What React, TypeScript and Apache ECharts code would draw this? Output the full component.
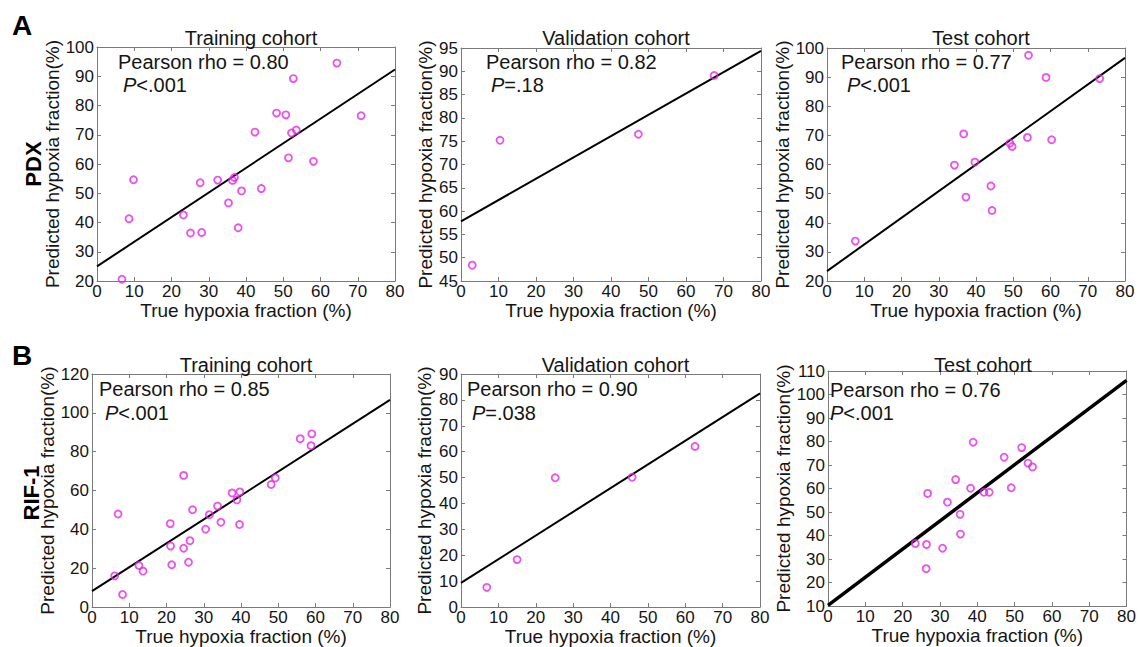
import React, { useEffect, useRef } from "react";
import * as echarts from "echarts";

const FONT = '"Liberation Sans", Arial, Helvetica, sans-serif';

// ---- Data ----
const cohortTitles = ["Training cohort", "Validation cohort", "Test cohort"];
const rowLabels = ["PDX", "RIF-1"];
const panelLetters = ["A", "B"];
const xAxisTitle = "True hypoxia fraction (%)";
const yAxisTitle = "Predicted hypoxia fraction(%)";

// PDX
const pdxTrainTrue = [64.4, 52.7, 48.2, 50.7, 70.9, 42.4, 52.2, 53.5, 51.4, 58.1, 9.8, 27.7, 32.4, 36.4, 36.9, 38.8, 44.1, 35.3, 8.6, 23.2, 25.1, 28.1, 37.9, 6.7];
const pdxTrainPred = [94.5, 89.2, 77.4, 76.8, 76.5, 70.9, 70.6, 71.6, 62.1, 60.9, 54.6, 53.6, 54.5, 54.4, 55.4, 50.8, 51.6, 46.7, 41.3, 42.6, 36.4, 36.6, 38.2, 20.6];
const pdxValTrue = [3.0, 10.4, 47.3, 67.5];
const pdxValPred = [48.4, 75.2, 76.5, 89.1];
const pdxTestTrue = [7.6, 34.2, 36.7, 39.7, 37.3, 44.0, 44.3, 49.1, 49.7, 53.8, 54.1, 58.8, 60.3, 73.2];
const pdxTestPred = [33.7, 59.8, 70.5, 60.8, 48.8, 52.6, 44.2, 67.3, 66.2, 69.3, 97.5, 89.9, 68.5, 89.5];

// RIF-1
const rifTrainTrue = [59.0, 55.9, 58.8, 24.6, 49.2, 48.1, 37.6, 39.7, 38.9, 33.7, 7.0, 27.0, 31.5, 34.6, 39.6, 21.0, 30.5, 26.3, 21.1, 24.6, 12.6, 13.7, 21.4, 25.9, 6.1, 8.2];
const rifTrainPred = [89.2, 86.7, 83.1, 67.8, 66.5, 63.1, 58.8, 59.3, 55.2, 52.0, 47.9, 50.1, 47.6, 43.7, 42.5, 43.0, 40.1, 34.2, 31.4, 30.3, 21.4, 18.5, 21.8, 23.1, 16.1, 6.5];
const rifValTrue = [6.9, 15.0, 25.2, 45.8, 62.6];
const rifValPred = [7.6, 18.3, 49.9, 50.1, 62.0];
const rifTestTrue = [38.9, 51.9, 47.2, 53.6, 54.8, 34.2, 38.2, 41.8, 43.2, 49.1, 26.7, 32.0, 35.4, 35.5, 23.4, 26.4, 30.7, 26.3];
const rifTestPred = [79.7, 77.4, 73.3, 70.8, 69.2, 63.8, 60.1, 58.4, 58.4, 60.3, 57.9, 54.2, 49.0, 40.6, 36.6, 36.2, 34.6, 25.9];

// Regression line values at x = 0 and x = 80
const fitX = [0, 80];
const pdxTrainFit = [25.0, 92.3];
const pdxValFit = [57.8, 94.4];
const pdxTestFit = [23.4, 96.6];
const rifTrainFit = [8.2, 106.7];
const rifValFit = [9.3, 82.5];
const rifTestFit = [10.3, 106.0];

// Axis ranges [min, max, step]
const xRange = [0, 80, 10];
const pdxTrainY = [20, 100, 10];
const pdxValY = [45, 95, 5];
const pdxTestY = [20, 100, 10];
const rifTrainY = [0, 120, 20];
const rifValY = [0, 90, 10];
const rifTestY = [10, 110, 10];

// Statistics text
const rhoTexts = ["0.80", "0.82", "0.77", "0.85", "0.90", "0.76"];
const pTexts = ["<.001", "=.18", "<.001", "<.001", "=.038", "<.001"];

// ---- Layout ----
const panels = [
  { xs: pdxTrainTrue, ys: pdxTrainPred, fit: pdxTrainFit, yr: pdxTrainY, box: [97, 47, 298, 234], nameGap: 30, lw: 2, ann: [21, 15, 26, 38], title: 0, titleTop: 23 },
  { xs: pdxValTrue, ys: pdxValPred, fit: pdxValFit, yr: pdxValY, box: [461, 48, 300, 233], nameGap: 24, lw: 2, ann: [25, 14, 30, 37], title: 1, titleTop: 23 },
  { xs: pdxTestTrue, ys: pdxTestPred, fit: pdxTestFit, yr: pdxTestY, box: [827, 48, 298, 233], nameGap: 27, lw: 2, ann: [14, 14, 20, 37], title: 2, titleTop: 23 },
  { xs: rifTrainTrue, ys: rifTrainPred, fit: rifTrainFit, yr: rifTrainY, box: [92, 374, 298, 234], nameGap: 27, lw: 2, ann: [7, 15, 13, 39], title: 0, titleTop: 350 },
  { xs: rifValTrue, ys: rifValPred, fit: rifValFit, yr: rifValY, box: [461, 374, 299, 233], nameGap: 27, lw: 2, ann: [6, 15, 11, 39], title: 1, titleTop: 350 },
  { xs: rifTestTrue, ys: rifTestPred, fit: rifTestFit, yr: rifTestY, box: [828, 371, 300, 235], nameGap: 33, lw: 3.5, ann: [2, 19, 2, 42], title: 2, titleTop: 350 },
];

const AXIS_COLOR = "#7a7a7a";
const TEXT_COLOR = "#151515";
const MARKER = "#e626e6";

function buildOption() {
  const grid: any[] = [];
  const xAxis: any[] = [];
  const yAxis: any[] = [];
  const series: any[] = [];
  const title: any[] = [];
  const graphic: any[] = [];

  panels.forEach((p, i) => {
    const [left, top, width, height] = p.box;
    grid.push({ left, top, width, height, containLabel: false });
    const axisLine = { show: true, onZero: false, lineStyle: { color: AXIS_COLOR, width: 1 } };
    const tick = { show: true, inside: true, length: 4, lineStyle: { color: AXIS_COLOR } };
    const labelStyle = { fontSize: 17, color: TEXT_COLOR, fontFamily: FONT };
    xAxis.push({
      type: "value", gridIndex: i, position: "bottom",
      min: xRange[0], max: xRange[1], interval: xRange[2],
      axisLine, axisTick: tick, splitLine: { show: false },
      axisLabel: { ...labelStyle, margin: 2, showMinLabel: true, showMaxLabel: true },
      name: xAxisTitle, nameLocation: "middle", nameGap: 19,
      nameTextStyle: { fontSize: 19, color: TEXT_COLOR, fontFamily: FONT },
    });
    xAxis.push({
      type: "value", gridIndex: i, position: "top",
      min: xRange[0], max: xRange[1], interval: xRange[2],
      axisLine, axisTick: tick, splitLine: { show: false }, axisLabel: { show: false },
    });
    yAxis.push({
      type: "value", gridIndex: i, position: "left",
      min: p.yr[0], max: p.yr[1], interval: p.yr[2],
      axisLine, axisTick: tick, splitLine: { show: false },
      axisLabel: { ...labelStyle, margin: 3, showMinLabel: true, showMaxLabel: true },
      name: yAxisTitle, nameLocation: "middle", nameGap: p.nameGap, nameRotate: 90,
      nameTextStyle: { fontSize: 19, color: TEXT_COLOR, fontFamily: FONT },
    });
    yAxis.push({
      type: "value", gridIndex: i, position: "right",
      min: p.yr[0], max: p.yr[1], interval: p.yr[2],
      axisLine, axisTick: tick, splitLine: { show: false }, axisLabel: { show: false },
    });
    series.push({
      type: "line", xAxisIndex: 2 * i, yAxisIndex: 2 * i,
      data: fitX.map((x, k) => [x, p.fit[k]]),
      symbol: "none", silent: true, z: 2,
      lineStyle: { color: "#000", width: p.lw },
    });
    series.push({
      type: "scatter", xAxisIndex: 2 * i, yAxisIndex: 2 * i,
      data: p.xs.map((x, k) => [x, p.ys[k]]),
      symbol: "circle", symbolSize: 7, z: 3,
      itemStyle: { color: "rgba(255,255,255,0)", borderColor: MARKER, borderWidth: 1.8 },
    });
    title.push({
      text: cohortTitles[p.title],
      left: left + width / 2, top: p.titleTop, textAlign: "center",
      textStyle: { fontSize: 20, fontWeight: "normal", color: TEXT_COLOR, fontFamily: FONT },
    });
    graphic.push({
      type: "text", x: left + p.ann[0], y: top + p.ann[1], z: 10,
      style: { text: "Pearson rho = " + rhoTexts[i], fontSize: 20, fontFamily: FONT, fill: TEXT_COLOR, verticalAlign: "middle", align: "left" },
    });
    graphic.push({
      type: "text", x: left + p.ann[2], y: top + p.ann[3], z: 10,
      style: {
        text: "{i|P}" + pTexts[i], fontSize: 20, fontFamily: FONT, fill: TEXT_COLOR, verticalAlign: "middle", align: "left",
        rich: { i: { fontStyle: "italic", fontSize: 20, fontFamily: FONT, fill: TEXT_COLOR } },
      },
    });
  });

  // Panel letters and row labels
  const rowCenters = [164, 493];
  const rowX = [33, 31];
  panelLetters.forEach((l, r) => {
    graphic.push({
      type: "text", x: 12, y: r === 0 ? 25 : 355,
      style: { text: l, fontSize: 28, fontWeight: "bold", fontFamily: FONT, fill: "#000", verticalAlign: "middle", align: "left" },
    });
    graphic.push({
      type: "text", x: rowX[r], y: rowCenters[r], rotation: Math.PI / 2,
      style: { text: rowLabels[r], fontSize: 22, fontWeight: "bold", fontFamily: FONT, fill: "#000", verticalAlign: "middle", align: "center" },
    });
  });

  return {
    animation: false,
    backgroundColor: "#ffffff",
    grid, xAxis, yAxis, series, title, graphic,
  };
}

export default function App() {
  const ref = useRef<HTMLDivElement>(null);
  useEffect(() => {
    if (!ref.current) return;
    const chart = echarts.init(ref.current, undefined, { renderer: "svg" });
    chart.setOption(buildOption() as any);
    return () => chart.dispose();
  }, []);
  return <div ref={ref} style={{ position: "absolute", left: 0, top: 0, width: 1139, height: 647, background: "#fff" }} />;
}
